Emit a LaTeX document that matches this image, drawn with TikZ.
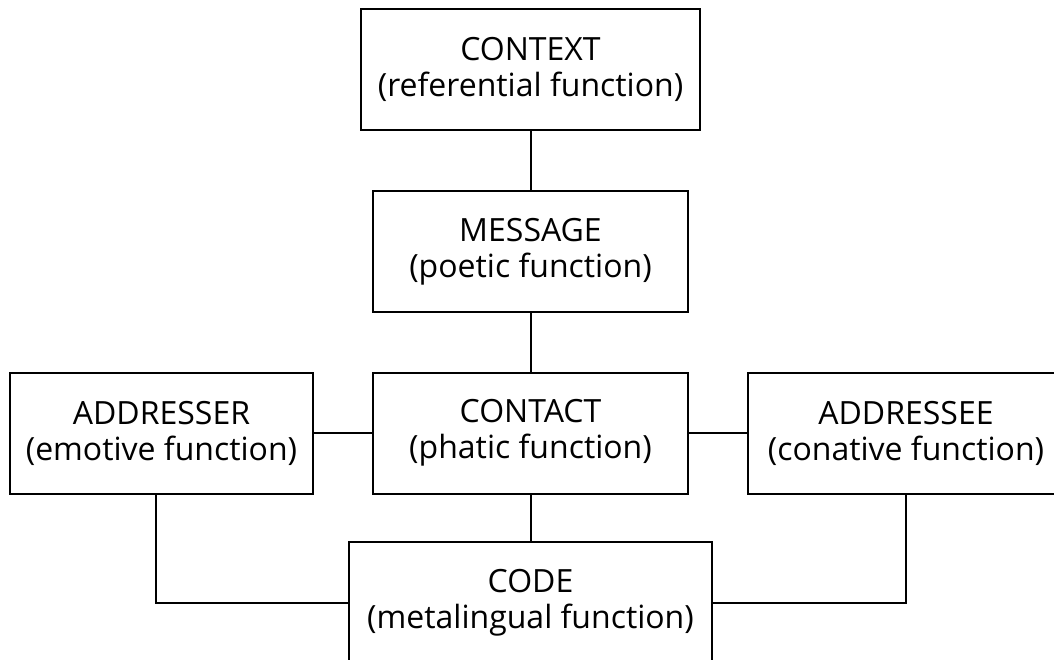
\documentclass[tikz,border=0pt]{standalone}
\usepackage{fontspec}
\setmainfont{Open Sans}
\begin{document}
\begin{tikzpicture}[x=1pt,y=-1pt,
  box/.style={draw, line width=2pt, inner sep=0pt, align=center,
    font=\fontsize{32}{36}\selectfont},
  conn/.style={line width=2pt}]
\useasboundingbox (0,0) rectangle (1054,660);
\clip (0,0) rectangle (1054,660);
\node[box, minimum width=339pt, minimum height=121pt] (context) at (530.5,69.5) {CONTEXT\\(referential function)};
\node[box, minimum width=315pt, minimum height=121pt] (message) at (530.5,251.5) {MESSAGE\\(poetic function)};
\node[box, minimum width=315pt, minimum height=121pt] (contact) at (530.5,433) {CONTACT\\(phatic function)};
\node[box, minimum width=303pt, minimum height=121pt] (addresser) at (161.5,433) {ADDRESSER\\(emotive function)};
\node[box, minimum width=316pt, minimum height=121pt] (addressee) at (906,433) {ADDRESSEE\\(conative function)};
\node[box, minimum width=363pt, minimum height=121pt] (code) at (530.5,602.5) {CODE\\(metalingual function)};
\coordinate (lx) at (156,0);
\draw[conn] (context) -- (message);
\draw[conn] (message) -- (contact);
\draw[conn] (contact) -- (code);
\draw[conn] (addresser) -- (contact);
\draw[conn] (contact) -- (addressee);
\draw[conn] (addresser.south -| lx) |- (code.west);
\draw[conn] (addressee.south) |- (code.east);
\end{tikzpicture}
\end{document}
